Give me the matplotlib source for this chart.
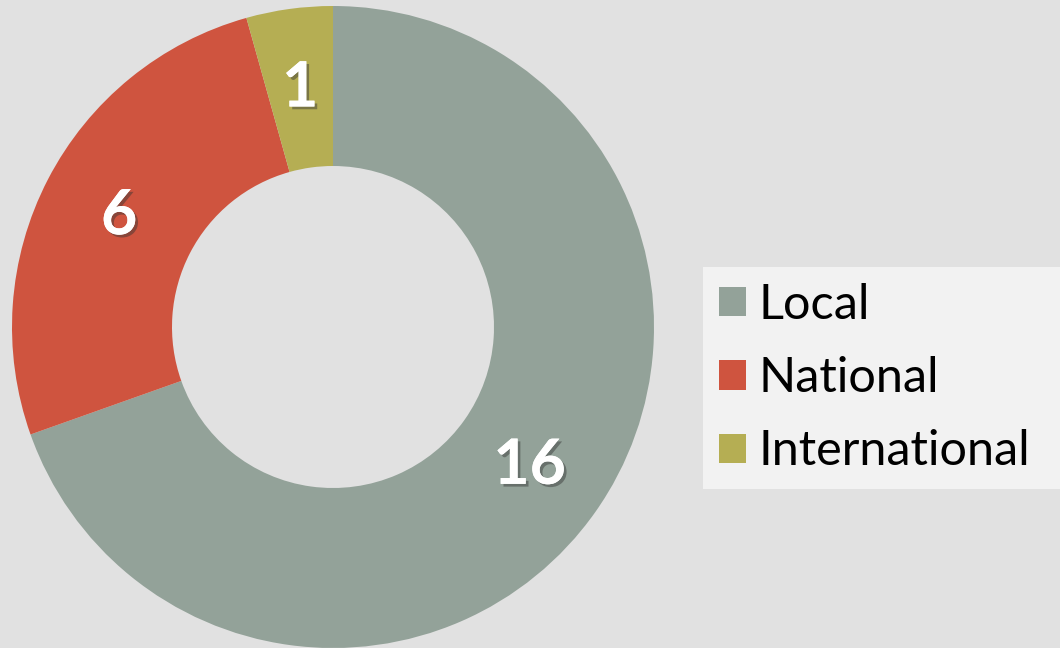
import matplotlib.pyplot as plt
import matplotlib.patheffects as pe
from matplotlib.patches import Patch

categories = ["Local", "National", "International"]
values = [16, 6, 1]
colors = ["#93a299", "#cf543f", "#b5ae53"]

W, H = 1060, 648
fig = plt.figure(figsize=(W / 100, H / 100), dpi=100)
fig.patch.set_facecolor("#e1e1e1")

ax = fig.add_axes([0, 0, 1, 1])

total = sum(values)
wedges, texts, autotexts = ax.pie(
    values,
    colors=colors,
    startangle=90,
    counterclock=False,
    center=(333, H - 327),
    radius=321,
    wedgeprops=dict(width=160, linewidth=0),
    autopct=lambda p: "%d" % round(p * total / 100),
    pctdistance=0.75,
    frame=True,
)
ax.set_xlim(0, W)
ax.set_ylim(0, H)
ax.set_aspect("equal")
ax.axis("off")

# etiquettes blanches avec ombre
for t in autotexts:
    t.set_color("white")
    t.set_fontsize(45)
    t.set_fontweight("bold")
    t.set_fontfamily("Lato")
    t.set_path_effects([pe.withSimplePatchShadow(offset=(2, -2), alpha=0.45, shadow_rgbFace="#333333"),
                        pe.Normal()])

handles = [Patch(facecolor=c, edgecolor="none") for c in colors]
leg = ax.legend(
    handles, categories,
    loc="upper left",
    bbox_to_anchor=(703 / W, 0, 357 / W, 1 - 267 / H),
    bbox_transform=fig.transFigure,
    mode="expand",
    prop={"family": "Lato", "size": 35},
    handlelength=0.55,
    handleheight=0.55,
    handletextpad=0.26,
    labelspacing=0.6,
    borderpad=0.33,
    borderaxespad=0,
    frameon=True,
    fancybox=False,
)
leg.get_frame().set_facecolor("#f2f2f2")
leg.get_frame().set_edgecolor("none")
leg.get_frame().set_alpha(1)

plt.savefig("out.png", dpi=100, facecolor=fig.get_facecolor())
